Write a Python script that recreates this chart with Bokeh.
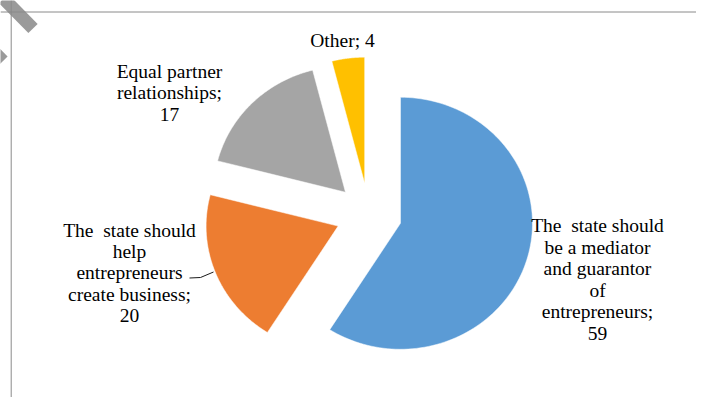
import numpy as np
from bokeh.plotting import figure
from bokeh.models import ColumnDataSource, Span, Range1d
from bokeh.core.properties import value
from bokeh.embed import file_html
from bokeh.resources import INLINE

# ---- data ----
categories = [
    "The\u00a0 state should\nbe a mediator\nand guarantor\nof\nentrepreneurs",
    "The\u00a0 state should\nhelp\nentrepreneurs\ncreate business",
    "Equal partner\nrelationships",
    "Other",
]
values = [59, 20, 17, 4]
label_sep = ["\n", "\n", "\n", " "]
colors = ["#5B9BD5", "#ED7D31", "#A5A5A5", "#FFC000"]

# ---- layout ----
W, H = 696, 397
CX, CY = 368.3, 214.0        # pie centre, pixels
SX, SY = 132.0, 126.0        # pixels per unit (radius 1)
EXPLODE = 0.25
FONT = value("'Liberation Serif', 'Times New Roman', serif")


def px(x, y):
    return (x - CX) / SX, (CY - y) / SY


x0 = (0 - CX) / SX
x1 = (W - CX) / SX
y1 = (CY - 0) / SY
y0 = (CY - H) / SY

p = figure(width=W, height=H, output_backend="svg", toolbar_location=None,
           x_range=Range1d(x0, x1), y_range=Range1d(y0, y1),
           min_border=0, outline_line_color=None)
p.axis.visible = False
p.grid.visible = False
p.background_fill_color = "white"
p.border_fill_color = "white"

# corner artifact stripes
sx0, sy0 = px(3, -2)
sx1, sy1 = px(32.5, 28)
p.line([sx0, sx1], [sy0, sy1], line_width=13, line_color="#9a9a9a", line_cap="butt")
tx0, ty0 = px(-20, 38)
tx1, ty1 = px(2.5, 60.5)
p.line([tx0, tx1], [ty0, ty1], line_width=13, line_color="#9a9a9a", line_cap="butt")

# frame lines
p.add_layout(Span(location=px(0, 11.5)[1], dimension="width", line_color="#8a8a8a", line_width=1))
p.add_layout(Span(location=px(10.7, 0)[0], dimension="height", line_color="#8a8a8a", line_width=1))

# ---- pie slices ----
vals = np.array(values, dtype=float)
fracs = vals / vals.sum()
ends = np.cumsum(fracs) * 2 * np.pi
starts = ends - fracs * 2 * np.pi
xs, ys = [], []
for a0, a1 in zip(starts, ends):
    mid = (a0 + a1) / 2
    ox, oy = EXPLODE * np.sin(mid), EXPLODE * np.cos(mid)
    t = np.linspace(a0, a1, 120)
    xs.append(list(np.concatenate([[ox], ox + np.sin(t), [ox]])))
    ys.append(list(np.concatenate([[oy], oy + np.cos(t), [oy]])))
src = ColumnDataSource(dict(xs=xs, ys=ys, color=colors))
p.patches("xs", "ys", fill_color="color", line_color="white", line_width=0.5, source=src)

# ---- data labels ----
label_px = [(597, 279), (129, 272.5), (169, 92.5), (342, 40)]
texts = [c + ";" + s + str(v) for c, s, v in zip(categories, label_sep, values)]
lx = [px(a, b)[0] for a, b in label_px]
ly = [px(a, b)[1] for a, b in label_px]
p.text(x=lx, y=ly, text=texts, text_align="center", text_baseline="middle",
       text_font=FONT, text_font_size="19.5px", text_line_height=1.02,
       text_color="#000000")

# leader line for orange label
lead = [px(189, 277.5), px(200, 277), px(213, 271.5)]
p.line([q[0] for q in lead], [q[1] for q in lead], line_color="#1a1a1a", line_width=1)

open("out.html", "w").write(file_html(p, INLINE))
